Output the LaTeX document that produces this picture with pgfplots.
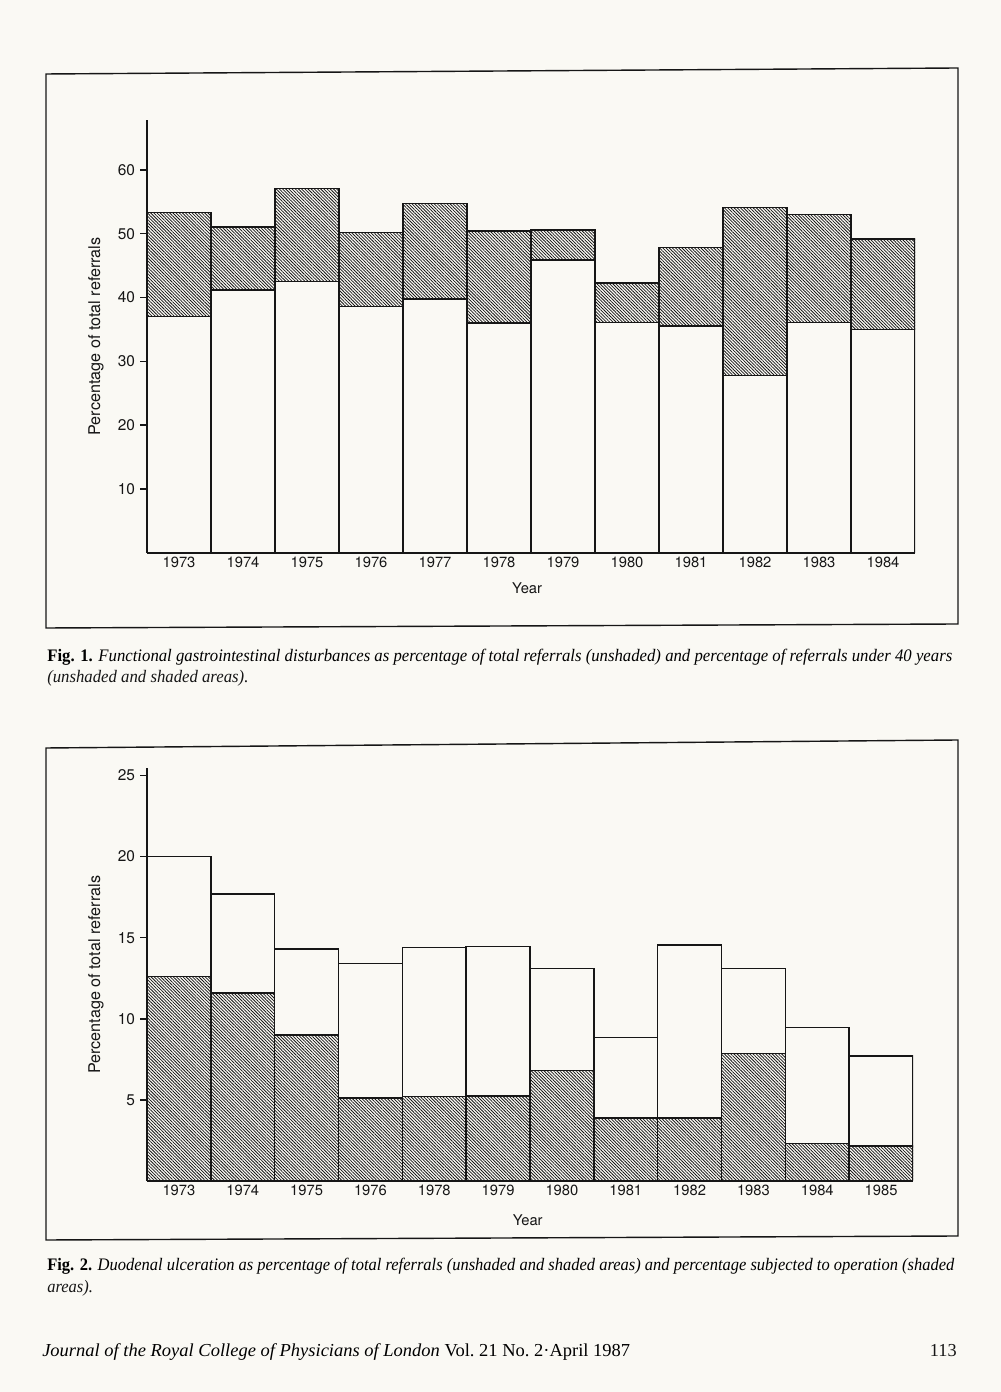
\documentclass[border=0pt]{standalone}
\usepackage{fontspec}
\setmainfont{Liberation Serif}
\setsansfont{TeX Gyre Heros}
\usepackage{graphicx}
\usepackage{pgfplots}
\pgfplotsset{compat=1.18}
\usetikzlibrary{patterns.meta}

\definecolor{paper}{RGB}{250,249,244}
\definecolor{ink}{RGB}{22,22,22}

\tikzset{hatch/.style={pattern={Lines[angle=-45,distance=1.6pt,line width=0.55pt]},pattern color=ink}}

\pgfplotsset{
  page chart/.style={
    scale only axis,
    anchor=south west,
    axis x line=bottom, axis y line=left,
    axis line style={-, line width=1.1pt, ink},
    xmin=-0.5, xmax=11.5, ymin=0,
    xtick={0,...,11},
    xtick style={draw=none},
    ytick style={line width=1.1pt, ink},
    tick align=outside,
    major tick length=1.75mm,
    ybar stacked, bar width=1,
    xticklabel style={font=\sffamily\fontsize{10.5}{12}\selectfont, text=ink, yshift=1.9mm},
    yticklabel style={font=\sffamily\fontsize{11}{12}\selectfont, text=ink},
    /pgf/number format/assume math mode=true,
    every axis y label/.style={rotate=90, anchor=center, text=ink,
      font=\sffamily\fontsize{11.5}{13}\selectfont},
    every axis x label/.style={anchor=center, text=ink,
      font=\sffamily\fontsize{10.5}{12}\selectfont},
  },
}

\newcommand\capfont{\fontsize{12.5}{15}\selectfont}
\newsavebox\capA
\newsavebox\capB
\newsavebox\capC

\begin{document}
\sbox\capA{\capfont\textbf{Fig. 1.} \textit{Functional gastrointestinal disturbances as percentage of total referrals (unshaded) and percentage of referrals under 40 years}}%
\sbox\capB{\capfont\textbf{Fig. 2.} \textit{Duodenal ulceration as percentage of total referrals (unshaded and shaded areas) and percentage subjected to operation (shaded}}%
\sbox\capC{\fontsize{13}{15}\selectfont\textit{Journal of the Royal College of Physicians of London} Vol.~21 No.~2·April 1987}%
\pgfmathsetmacro\sxA{643.7/\the\wd\capA}%
\pgfmathsetmacro\sxB{645.2/\the\wd\capB}%
\pgfmathsetmacro\sxC{418.2/\the\wd\capC}%
\begin{tikzpicture}[x=0.25mm,y=0.25mm]
\fill[paper] (0,0) rectangle (1001,1392);
\useasboundingbox (0,0) rectangle (1001,1392);

% frames round the two figures
\draw[ink, line width=1pt] (46,1318) -- (958,1324) -- (958,768) -- (46,764) -- cycle;
\draw[ink, line width=1pt] (46,644) -- (958,652) -- (958,156) -- (46,152) -- cycle;

% Fig. 1
\begin{axis}[page chart,
    at={(36.75mm,209.75mm)},
    width=192mm, height=108.25mm,
    ymax=67.8,
    ytick={10,20,...,60},
    xticklabels={1973,1974,1975,1976,1977,1978,1979,1980,1981,1982,1983,1984},
    xlabel={Year},
    ylabel={Percentage of total referrals},
    xlabel style={at={(axis description cs:0.495,-0.081)}},
    ylabel style={at={(axis description cs:-0.0664,0.5)}},
  ]
  % all referrals (unshaded)
  \addplot[fill=paper, draw=ink, line width=1.1pt] coordinates {
    (0,37.0) (1,41.2) (2,42.5) (3,38.6) (4,39.8) (5,36.0)
    (6,45.9) (7,36.1) (8,35.5) (9,27.8) (10,36.1) (11,35.0)};
  % extra for under 40 years (shaded)
  \addplot[hatch, draw=ink, line width=1.1pt] coordinates {
    (0,16.3) (1,9.8) (2,14.6) (3,11.6) (4,14.9) (5,14.4)
    (6,4.7) (7,6.2) (8,12.3) (9,26.3) (10,16.9) (11,14.2)};
\end{axis}

% Fig. 2
\begin{axis}[page chart,
    at={(36.75mm,52.75mm)},
    width=191.5mm, height=103.25mm,
    ymax=25.46,
    ytick={5,10,...,25},
    xticklabels={1973,1974,1975,1976,1978,1979,1980,1981,1982,1983,1984,1985},
    xlabel={Year},
    ylabel={Percentage of total referrals},
    xlabel style={at={(axis description cs:0.497,-0.0944)}},
    ylabel style={at={(axis description cs:-0.0666,0.499)}},
  ]
  % subjected to operation (shaded)
  \addplot[hatch, draw=ink, line width=1.1pt] coordinates {
    (0,12.6) (1,11.6) (2,9.0) (3,5.1) (4,5.2) (5,5.25)
    (6,6.8) (7,3.9) (8,3.9) (9,7.85) (10,2.3) (11,2.15)};
  % rest of duodenal ulceration (unshaded)
  \addplot[fill=paper, draw=ink, line width=1.1pt] coordinates {
    (0,7.4) (1,6.1) (2,5.3) (3,8.3) (4,9.2) (5,9.2)
    (6,6.3) (7,4.95) (8,10.65) (9,5.25) (10,7.15) (11,5.55)};
\end{axis}

% captions
\node[anchor=base west, inner sep=0, text=ink] at (47,730) {\scalebox{\sxA}[1]{\usebox\capA}};
\node[anchor=base west, inner sep=0, text=ink] at (47,709) {\scalebox{\sxA}[1]{\capfont\textit{(unshaded and shaded areas).}}};
\node[anchor=base west, inner sep=0, text=ink] at (47,121) {\scalebox{\sxB}[1]{\usebox\capB}};
\node[anchor=base west, inner sep=0, text=ink] at (47,99) {\scalebox{\sxB}[1]{\capfont\textit{areas).}}};

% running foot
\node[anchor=base west, inner sep=0, text=ink] at (42,35) {\scalebox{\sxC}[1]{\usebox\capC}};
\node[anchor=base east, inner sep=0, text=ink] at (957,35) {\fontsize{13}{15}\selectfont 113};
\end{tikzpicture}
\end{document}
